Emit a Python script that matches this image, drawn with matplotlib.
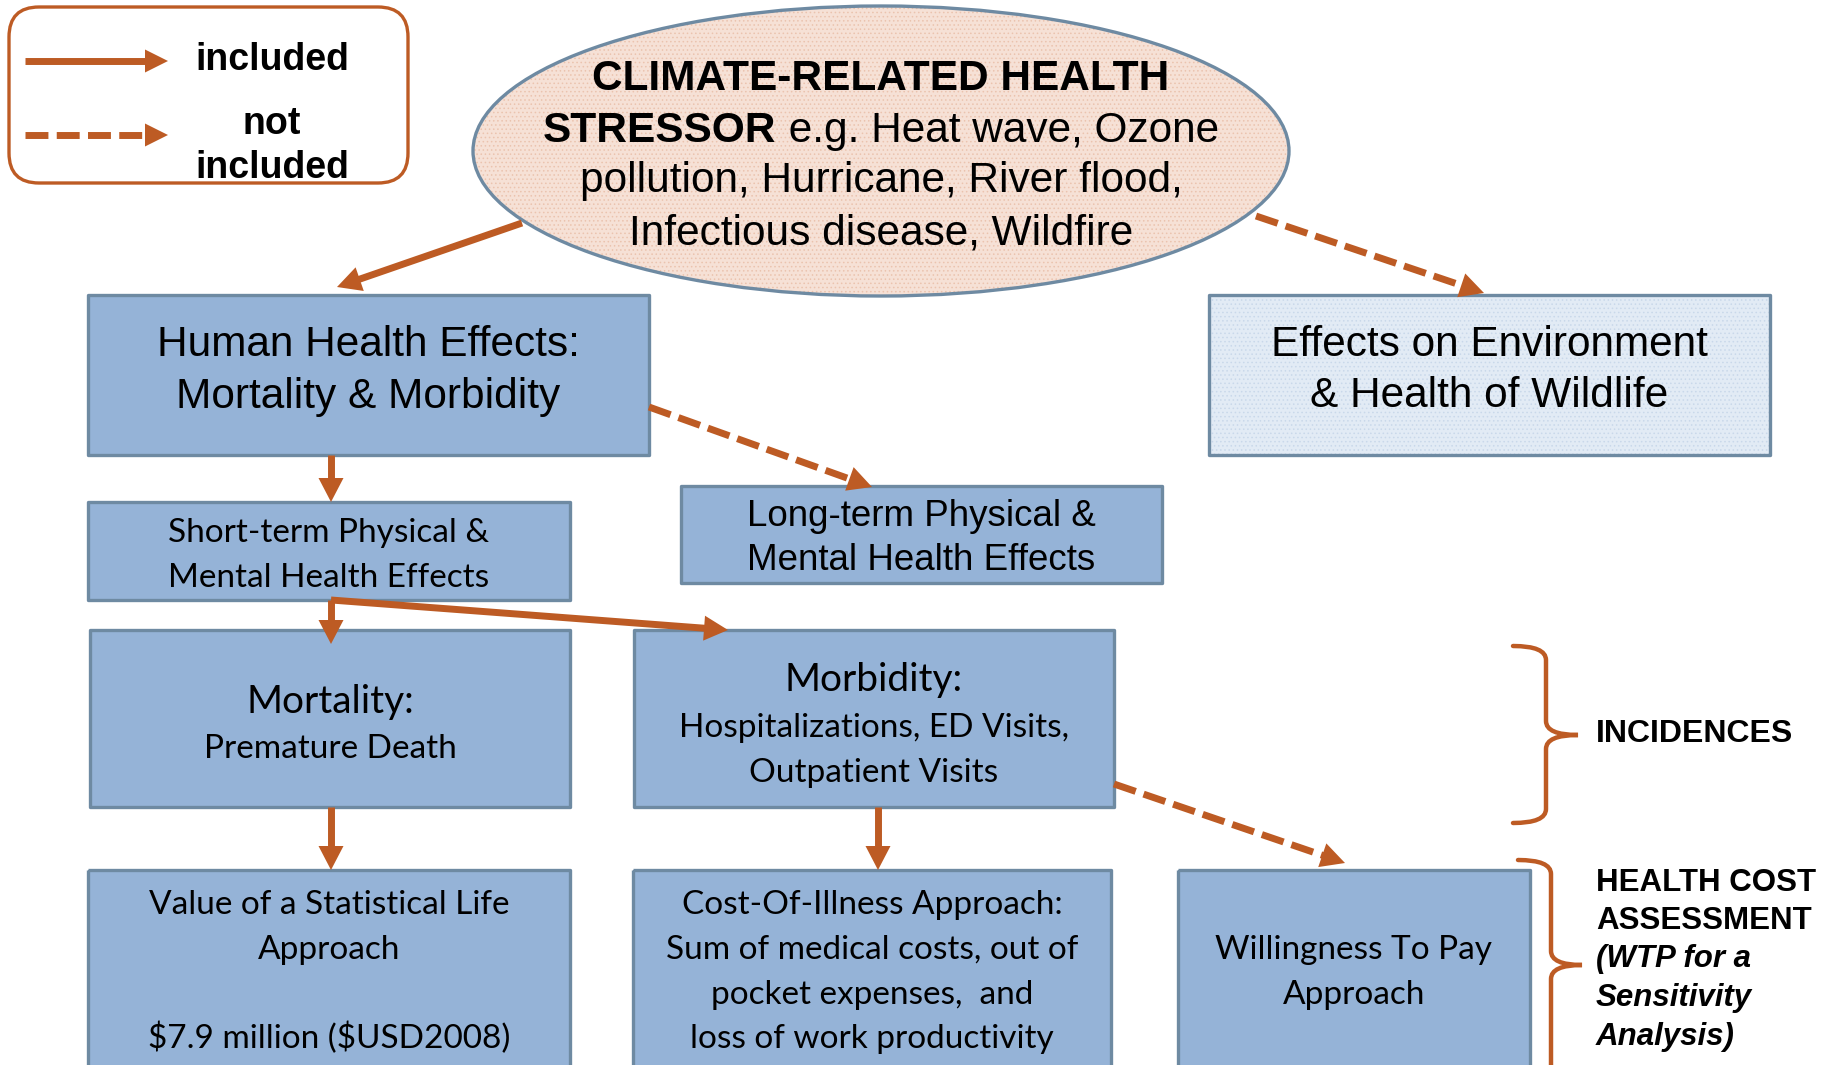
import matplotlib
matplotlib.use("Agg")
import matplotlib.pyplot as plt
from matplotlib.patches import Rectangle, Ellipse, FancyBboxPatch, Polygon, PathPatch
from matplotlib.path import Path
import numpy as np

# ---------------- content ----------------
legend_labels = ["included", "not\nincluded"]
stressor_line1 = "CLIMATE-RELATED HEALTH"
stressor_bold2 = "STRESSOR"
stressor_rest2 = " e.g. Heat wave, Ozone"
stressor_lines34 = ["pollution, Hurricane, River flood,", "Infectious disease, Wildfire"]
human_lines = ["Human Health Effects:", "Mortality & Morbidity"]
env_lines = ["Effects on Environment", "& Health of Wildlife"]
short_lines = ["Short-term Physical &", "Mental Health Effects"]
long_lines = ["Long-term Physical &", "Mental Health Effects"]
mort_title = "Mortality:"
mort_lines = ["Premature Death"]
morb_title = "Morbidity:"
morb_lines = ["Hospitalizations, ED Visits,", "Outpatient Visits"]
vsl_lines = ["Value of a Statistical Life", "Approach", "", "$7.9 million ($USD2008)"]
coi_lines = ["Cost-Of-Illness Approach:", "Sum of medical costs, out of",
             "pocket expenses,  and", "loss of work productivity"]
wtp_lines = ["Willingness To Pay", "Approach"]
incid_label = "INCIDENCES"
cost_bold = ["HEALTH COST", "ASSESSMENT"]
cost_italic = ["(WTP for a", "Sensitivity", "Analysis)"]

# ---------------- style ----------------
ORANGE = "#BD5B24"
BOX_FC = "#95B3D7"
BOX_EC = "#6E8AA2"
ELL_FC = "#F6E1D6"
ENV_FC = "#E2EBF5"
ARIAL = "Liberation Sans"
GEO = "Lato"
GEO_BODY = 24
GEO_TITLE = 28

W, H = 1840, 1065
fig = plt.figure(figsize=(W / 100, H / 100), dpi=100)
ax = fig.add_axes([0, 0, 1, 1])
ax.set_xlim(0, W)
ax.set_ylim(H, 0)
ax.axis("off")
plt.rcParams["hatch.linewidth"] = 0.6


def px(pt):
    return pt * 100 / 72


def lines_text(cx, ys, lines, size, family, weight="normal", style="normal", ha="center"):
    for y, s in zip(ys, lines):
        if s == "":
            continue
        ax.text(cx, y + 0.36 * px(size), s, fontsize=size, family=family,
                weight=weight, style=style, ha=ha, va="baseline", zorder=6,
                parse_math=False)


def box(x0, y0, x1, y1, fc=BOX_FC, hatch_color=None):
    ax.add_patch(Rectangle((x0, y0), x1 - x0, y1 - y0, facecolor=fc,
                           edgecolor="none", zorder=2))
    if hatch_color:
        ax.add_patch(Rectangle((x0, y0), x1 - x0, y1 - y0, facecolor="none",
                               edgecolor=hatch_color, lw=0, hatch="....", zorder=2.1))
    ax.add_patch(Rectangle((x0, y0), x1 - x0, y1 - y0, facecolor="none",
                           edgecolor=BOX_EC, lw=2.4, zorder=2.2, joinstyle="round"))


def arrow(x0, y0, x1, y1, dashed=False, lw=5.0, hl=24, hw=25):
    d = np.array([x1 - x0, y1 - y0], float)
    L = np.hypot(*d)
    u = d / L
    n = np.array([-u[1], u[0]])
    base = np.array([x1, y1]) - u * hl
    ls = (0, (3.3, 1.2)) if dashed else "-"
    ax.plot([x0, base[0] + u[0] * 2], [y0, base[1] + u[1] * 2], color=ORANGE, lw=lw,
            linestyle=ls, solid_capstyle="butt", dash_capstyle="butt", zorder=5)
    tri = [[x1, y1], base + n * hw / 2, base - n * hw / 2]
    ax.add_patch(Polygon(tri, closed=True, facecolor=ORANGE, edgecolor="none", zorder=5))


def brace(x0, xv, xt, ytop, ymid, ybot, r=14):
    verts = [(x0, ytop), (xv, ytop), (xv, ytop + r),
             (xv, ymid - r), (xv, ymid), (xt, ymid),
             (xv, ymid), (xv, ymid + r),
             (xv, ybot - r), (xv, ybot), (x0, ybot)]
    codes = [Path.MOVETO, Path.CURVE3, Path.CURVE3,
             Path.LINETO, Path.CURVE3, Path.CURVE3,
             Path.CURVE3, Path.CURVE3,
             Path.LINETO, Path.CURVE3, Path.CURVE3]
    ax.add_patch(PathPatch(Path(verts, codes), facecolor="none", edgecolor=ORANGE,
                           lw=3.2, capstyle="round", zorder=5))


# ---------------- legend ----------------
ax.add_patch(FancyBboxPatch((9, 7), 399, 176, boxstyle="round,pad=0,rounding_size=30",
                            facecolor="white", edgecolor=ORANGE, lw=2.4, zorder=3))
arrow(25, 61, 168, 61, dashed=False, lw=5.0, hl=23, hw=23)
arrow(25, 135, 168, 135, dashed=True, lw=5.0, hl=23, hw=23)
lines_text(272, [57], [legend_labels[0]], 27, ARIAL, weight="bold")
lines_text(272, [121, 165], legend_labels[1].split("\n"), 27, ARIAL, weight="bold")

# ---------------- ellipse ----------------
ax.add_patch(Ellipse((881, 151), 816, 290, facecolor=ELL_FC, edgecolor="none", zorder=2))
ax.add_patch(Ellipse((881, 151), 816, 290, facecolor="none", edgecolor="#EBC3AE", lw=0,
                     hatch="....", zorder=2.1))
ax.add_patch(Ellipse((881, 151), 816, 290, facecolor="none", edgecolor=BOX_EC, lw=2.4, zorder=2.2))
ES = 30.5
lines_text(881, [75], [stressor_line1], ES, ARIAL, weight="bold")
fig.canvas.draw()
rend = fig.canvas.get_renderer()
yb = 127 + 0.36 * px(ES)
t1 = ax.text(0, yb, stressor_bold2, fontsize=ES, family=ARIAL, weight="bold", va="baseline", zorder=6)
t2 = ax.text(0, yb, stressor_rest2, fontsize=ES, family=ARIAL, va="baseline", zorder=6)
w1 = t1.get_window_extent(rend).width
w2 = t2.get_window_extent(rend).width
xs = 881 - (w1 + w2) / 2
t1.set_x(xs)
t2.set_x(xs + w1)
lines_text(881, [177, 229], stressor_lines34, ES, ARIAL)

# ---------------- boxes ----------------
box(88, 295, 649, 455)
lines_text(368, [341, 393], human_lines, 30.5, ARIAL)

box(1209, 295, 1770, 455, fc=ENV_FC, hatch_color="#C9D8EA")
lines_text(1489, [341, 392], env_lines, 30.5, ARIAL)

box(88, 502, 570, 600)
lines_text(329, [530, 575], short_lines, GEO_BODY, GEO)

box(681, 486, 1162, 583)
lines_text(921, [513, 557], long_lines, 26.5, ARIAL)

box(90, 630, 570, 807)
lines_text(330, [699], [mort_title], GEO_TITLE, GEO)
lines_text(330, [746], mort_lines, GEO_BODY, GEO)

box(634, 630, 1114, 807)
lines_text(874, [677], [morb_title], GEO_TITLE, GEO)
lines_text(874, [725, 770], morb_lines, GEO_BODY, GEO)

box(88, 870, 570, 1080)
lines_text(329, [902, 947, 992, 1036], vsl_lines, GEO_BODY, GEO)

box(633, 870, 1111, 1080)
lines_text(872, [902, 947, 992, 1036], coi_lines, GEO_BODY, GEO)

box(1178, 870, 1530, 1080)
lines_text(1354, [947, 992], wtp_lines, GEO_BODY, GEO)

# ---------------- arrows ----------------
arrow(522, 223, 337, 287)
arrow(1256, 216, 1484, 293, dashed=True)
arrow(331, 455, 331, 502)
arrow(649, 407, 872, 487, dashed=True)
arrow(331, 600, 331, 644)
arrow(331, 600, 728, 630)
arrow(331, 807, 331, 870)
arrow(878, 807, 878, 870)
arrow(1114, 784, 1345, 863, dashed=True)

# ---------------- braces ----------------
brace(1513, 1546, 1578, 646, 735, 823)
brace(1518, 1551, 1582, 860, 965, 1170)
lines_text(1596, [731], [incid_label], 23, ARIAL, weight="bold", ha="left")
lines_text(1596, [880, 918], cost_bold, 22.5, ARIAL, weight="bold", ha="left")
lines_text(1596, [956, 995, 1034], cost_italic, 22.5, ARIAL, weight="bold", style="italic", ha="left")

fig.savefig("out.png", dpi=100)
